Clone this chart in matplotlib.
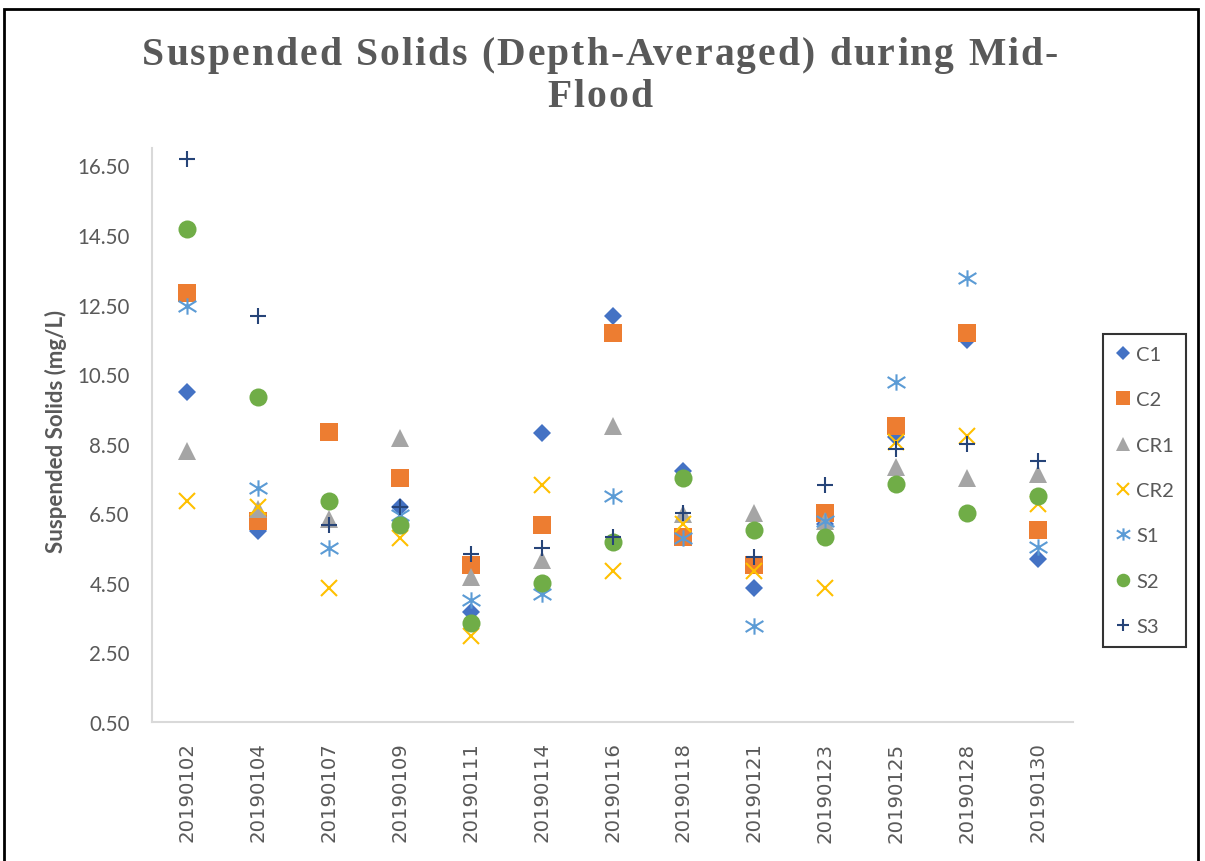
import matplotlib
matplotlib.use("Agg")
import matplotlib.pyplot as plt
from matplotlib.path import Path
from matplotlib.patches import Rectangle
from matplotlib.font_manager import FontProperties

dates = ["20190102", "20190104", "20190107", "20190109", "20190111", "20190114", "20190116",
         "20190118", "20190121", "20190123", "20190125", "20190128", "20190130"]

C1 = [10.00, 6.00, None, 6.67, 3.67, 8.82, 12.17, 7.72, 4.34, 6.19, 8.70, 11.47, 5.18]
C2 = [12.83, 6.28, 8.84, 7.50, 5.01, 6.17, 11.67, 5.83, 5.01, 6.50, 9.01, 11.67, 6.02]
CR1 = [8.29, 6.62, 6.33, 8.66, 4.67, 5.15, 9.01, 6.48, 6.51, 6.28, 7.83, 7.51, 7.64]
CR2 = [6.85, 6.67, 4.34, 5.78, 2.96, 7.32, 4.85, 6.19, 4.85, 4.34, 8.55, 8.71, 6.76]
S1 = [12.46, 7.24, 5.50, 6.45, 4.00, 4.18, 7.00, 5.78, 3.27, 6.27, 10.26, 13.25, 5.54]
S2 = [14.66, 9.85, 6.84, 6.17, 3.34, 4.51, 5.66, 7.50, 6.02, 5.83, 7.34, 6.50, 7.00]
S3 = [16.67, 12.17, 6.16, 6.67, 5.33, 5.49, 5.83, 6.52, 5.23, 7.32, 8.34, 8.49, 8.01]

series_names = ["C1", "C2", "CR1", "CR2", "S1", "S2", "S3"]
yticks = [0.5, 2.5, 4.5, 6.5, 8.5, 10.5, 12.5, 14.5, 16.5]
title_lines = ["Suspended Solids (Depth-Averaged) during Mid-", "Flood"]

GRAY = "#595959"
W, H = 1205, 862

# Excel-like star marker: vertical bar plus an X
star = Path([(0, -0.92), (0, 0.92), (-1, -0.62), (1, 0.62), (-1, 0.62), (1, -0.62)],
            [Path.MOVETO, Path.LINETO, Path.MOVETO, Path.LINETO, Path.MOVETO, Path.LINETO])

styles = {
    "C1": dict(marker="D", color="#4472C4", ms=9.2, mew=0),
    "C2": dict(marker="s", color="#ED7D31", ms=12.7, mew=0),
    "CR1": dict(marker="^", color="#A5A5A5", ms=13, mew=0),
    "CR2": dict(marker="x", color="#FFC000", ms=12, mew=1.5),
    "S1": dict(marker=star, color="#5B9BD5", ms=12.8, mew=1.5, mfc="none"),
    "S2": dict(marker="o", color="#70AD47", ms=13, mew=0),
    "S3": dict(marker="+", color="#264478", ms=12, mew=1.5),
}
data = {"C1": C1, "C2": C2, "CR1": CR1, "CR2": CR2, "S1": S1, "S2": S2, "S3": S3}

fig = plt.figure(figsize=(W / 100, H / 100), dpi=100)
ax = fig.add_axes([152 / W, 1 - 723 / H, 921 / W, (723 - 149) / H])

x = list(range(len(dates)))
for name in series_names:
    st = styles[name]
    xs = [xi for xi, v in zip(x, data[name]) if v is not None]
    ys = [v for v in data[name] if v is not None]
    kw = dict(linestyle="none", marker=st["marker"], markersize=st["ms"],
              markeredgewidth=st["mew"], color=st["color"], label=name)
    if st["marker"] in ("x", "+") or st.get("mfc") == "none":
        kw["markerfacecolor"] = "none"
        kw["markeredgecolor"] = st["color"]
    ax.plot(xs, ys, **kw)

ax.set_xlim(-0.5, len(dates) - 0.5)
ax.set_ylim(0.5, 17.0)
ax.set_yticks(yticks)
ax.set_yticklabels([f"{v:.2f}" for v in yticks], fontfamily="Lato", fontsize=14.8, color=GRAY)
ax.set_xticks(x)
ax.set_xticklabels(dates, rotation=90, fontfamily="DejaVu Sans", fontsize=14.2, color=GRAY)
ax.tick_params(axis="y", length=0, pad=16)
ax.tick_params(axis="x", length=0, pad=14)
for s in ("top", "right"):
    ax.spines[s].set_visible(False)
for s in ("left", "bottom"):
    ax.spines[s].set_color("#D9D9D9")
    ax.spines[s].set_linewidth(1.5)

ax.set_ylabel("Suspended Solids (mg/L)", fontfamily="Lato", fontweight="bold",
              fontsize=16, color=GRAY)
ax.yaxis.set_label_coords(67 / W, 0.5, transform=fig.transFigure)

# Title with expanded character spacing (drawn glyph by glyph)
renderer = fig.canvas.get_renderer()
tprop = FontProperties(family="Liberation Serif", weight="bold", size=28.5)


def text_w(s):
    w, _, _ = renderer.get_text_width_height_descent(s, tprop, ismath=False)
    return w


line1_target = 916.0
nat1 = text_w(title_lines[0])
spacing = (line1_target - nat1) / (len(title_lines[0]) - 1)


def spaced_line(s, xc_px, base_px):
    total = text_w(s) + spacing * (len(s) - 1)
    x0 = xc_px - total / 2
    for i, ch in enumerate(s):
        if ch == " ":
            continue
        left = text_w(s[:i + 1]) - text_w(ch) if i > 0 else 0.0
        fig.text((x0 + left + i * spacing) / W, 1 - base_px / H, ch, ha="left",
                 va="baseline", fontproperties=tprop, color=GRAY)


spaced_line(title_lines[0], 600, 65)
spaced_line(title_lines[1], 600, 107)

leg = fig.legend(loc="upper left", bbox_to_anchor=(1103 / W, 1 - 335 / H),
                 prop={"family": "Lato", "size": 14.5}, frameon=True, fancybox=False,
                 edgecolor="black", labelspacing=1.4, handlelength=0.8,
                 handletextpad=0.25, borderpad=0.6, borderaxespad=0, markerscale=0.75,
                 labelcolor=GRAY)
leg.get_frame().set_linewidth(1.5)

fig.patches.append(Rectangle((4 / W, -0.05), (1198 - 4) / W, 1.05 - 10 / H,
                             transform=fig.transFigure, fill=False, edgecolor="black",
                             linewidth=2, clip_on=False))

fig.savefig("out.png", dpi=100)
